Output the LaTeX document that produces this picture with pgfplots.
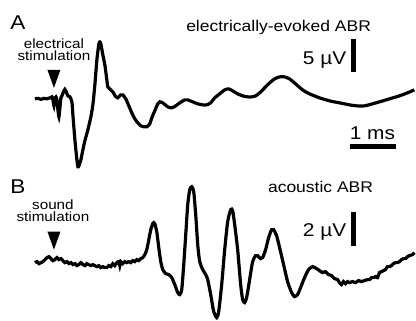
\documentclass[border=0pt]{standalone}
\usepackage{pgfplots}
\pgfplotsset{compat=1.18}
\usepackage{graphicx}
\usepackage{fontspec}
\setmainfont{Liberation Sans}
\newcommand{\fs}[1]{\fontsize{#1}{#1}\selectfont}
\newcommand{\sx}[1]{\scalebox{1.13}[1]{#1}}
\begin{document}
\begin{tikzpicture}
\begin{axis}[
  width=416pt, height=321pt, scale only axis,
  xmin=0, xmax=416, ymin=0, ymax=321, y dir=reverse,
  hide axis, clip=false,
]
\path (axis cs:0,0) rectangle (axis cs:416,321);
% Trace A: electrically-evoked ABR
\addplot[black, line width=3.2pt, smooth, tension=0.4] coordinates {
(35,99) (38,98.5) (41,99.5) (44,98.5) (47,99) (50,98) (52,97) (53,100) (54,106) (55,98) (56,97) (57,100) (58,110) (59,117) (60,108) (61,98) (62,96) (64,91) (65,89.5) (66,91) (68,96) (70,97) (72,102) (73,115) (75,140) (77,160) (78,167) (79,166) (81,160) (83,150) (85,141) (88,130) (91,117) (93,105) (95,85) (97,60) (99,44) (100,42) (101,44) (103,55) (105,65) (107,80) (108,87) (111,90) (113,92) (116,97) (118,98) (121,95) (123,95) (126,99) (129,106) (132,113) (135,119) (138,123) (141,126) (144,127) (147,127) (150,124) (152,118) (155,111) (158,104) (160,102) (163,103) (168,107) (172,108) (176,106) (180,103) (185,100) (188,100) (193,102) (198,104) (203,105) (207,105) (211,103) (215,98) (220,94) (225,90) (229,89) (233,91) (238,94) (243,96) (248,97) (252,97) (256,96) (260,93) (265,88) (270,83) (275,79) (280,77) (285,77) (290,79) (296,84) (303,90) (310,94) (320,98) (330,101) (340,103) (350,105) (357,106) (365,106) (373,104) (380,102) (390,99) (400,96) (408,93) (415,90)
};
% Trace B: acoustic ABR
\addplot[black, line width=3.2pt, smooth, tension=0.4] coordinates {
(35,263) (37,262) (39,264) (41,263) (43,262) (45,260) (47,258) (49,257) (51,259) (53,261) (55,260) (57,258) (59,260) (61,259) (63,261) (65,263) (67,262) (69,264) (71,263) (73,265) (75,264) (77,266) (79,265) (81,263) (83,265) (85,266) (87,264) (89,265) (91,266) (93,265) (95,266) (97,267) (99,266) (101,268) (103,267) (105,268) (107,268) (109,266) (111,267) (113,264) (115,266) (117,263) (119,262) (120,266) (121,262) (123,264) (125,262) (127,263) (129,262) (131,263) (133,261) (135,262) (137,260) (139,261) (141,259) (143,258) (145,255)
(147,250) (149,240) (151,230) (153,224) (154,223) (155,224) (157,232) (159,248) (161,262) (163,270) (166,274) (169,275) (172,278) (175,285) (178,293) (180,295) (182,290) (184,265) (186,235) (188,205) (190,190) (192,187) (194,192) (196,215) (198,245) (200,262) (203,270) (206,275) (208,280) (211,295) (214,312) (217,318) (219,312) (222,285) (225,250) (228,222) (231,210) (233,211) (235,225) (238,250) (241,285) (243,300) (245,303) (247,298) (250,280) (253,262) (256,256) (258,256) (261,259) (263,258) (266,250) (269,238) (272,230) (274,230) (277,236) (280,248) (284,265) (288,282) (292,293) (295,297) (298,295) (301,288) (305,278) (309,270) (313,267) (317,269) (320,271)
(323,273) (326,272) (329,275) (332,276) (335,279) (338,280) (340,283) (342,285) (344,282) (346,284) (348,282) (350,283) (353,282) (356,283) (359,281) (362,282) (365,281) (368,280) (370,280) (372,278) (374,278) (376,277) (378,278) (380,273) (382,272) (384,271) (386,270) (388,267) (390,267) (392,266) (394,264) (396,263) (398,263) (400,262) (402,260) (404,259) (406,259) (408,257) (410,256) (413,255) (415,253)
};
% stimulus arrows
\fill (axis cs:47.5,70) -- (axis cs:60.5,70) -- (axis cs:54,88) -- cycle;
\fill (axis cs:47.5,232) -- (axis cs:60.5,232) -- (axis cs:54,250) -- cycle;
% scale bars
\draw[line width=4.8pt] (axis cs:354,39) -- (axis cs:354,72);
\draw[line width=4.8pt] (axis cs:350,147) -- (axis cs:397,147);
\draw[line width=4.8pt] (axis cs:354,212) -- (axis cs:354,246);
% labels
\node[font=\fs{20}] at (axis cs:18,23) {\sx{A}};
\node[font=\fs{20}] at (axis cs:18,187) {\sx{B}};
\node[font=\fs{13.5}, align=center] at (axis cs:54,50) {\sx{electrical}\\[-1pt]\sx{stimulation}};
\node[font=\fs{13.5}, align=center] at (axis cs:53,211) {\sx{sound}\\[-1pt]\sx{stimulation}};
\node[font=\fs{15.5}] at (axis cs:279,28) {\sx{electrically-evoked ABR}};
\node[font=\fs{15.5}] at (axis cs:321,187) {\sx{acoustic ABR}};
\node[font=\fs{18.5}, anchor=east, inner sep=0pt] at (axis cs:347,60) {\sx{5 µV}};
\node[font=\fs{18.5}, anchor=east, inner sep=0pt] at (axis cs:347,232) {\sx{2 µV}};
\node[font=\fs{18.5}] at (axis cs:373,133) {\sx{1 ms}};
\end{axis}
\end{tikzpicture}
\end{document}
